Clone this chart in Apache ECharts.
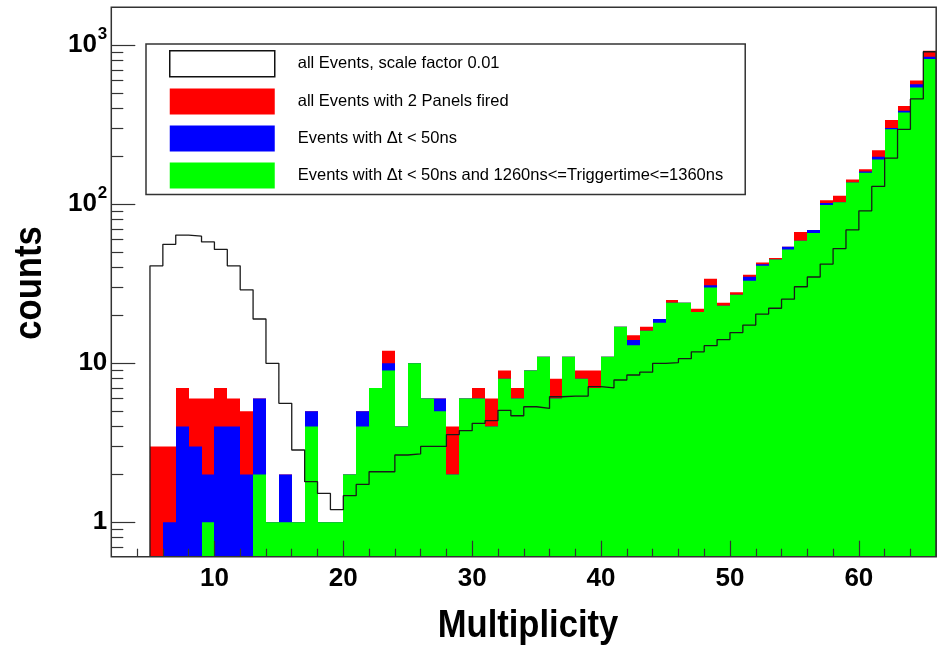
<!DOCTYPE html>
<html>
<head>
<meta charset="utf-8">
<script src="https://cdn.jsdelivr.net/npm/echarts@6/dist/echarts.min.js"></script>
<style>
html,body{margin:0;padding:0;background:#fff;}
#chart{width:942px;height:650px;}
</style>
</head>
<body>
<div id="chart"></div>
<script>
// ---------------- data ----------------
// lower edge of each multiplicity bin (bin width 1)
const bins = [5,6,7,8,9,10,11,12,13,14,15,16,17,18,19,20,21,22,23,24,25,26,27,28,29,30,31,32,33,34,35,
  36,37,38,39,40,41,42,43,44,45,46,47,48,49,50,51,52,53,54,55,56,57,58,59,60,61,62,63,64,65];

// all Events, scale factor 0.01 (black outline)
const allEventsScaled = [41,56,64,63,58,52,41,29,19,10,
  5.6,2.85,1.8,1.52,1.2,1.47,1.73,2.08,2.08,2.65,
  2.69,3.0,3.0,3.56,3.77,4.19,4.36,5.06,4.68,5.33,
  5.2,6.16,6.22,6.22,7.13,7.0,7.85,8.44,8.8,10.0,
  10.1,10.7,11.8,12.9,14.1,15.6,17.4,20.4,22.2,25.3,
  30.3,34.9,42.1,52.7,69,91,129.5,195,296,460,
  911];

// all Events with 2 Panels fired (red)
const twoPanels = [3,3,7,6,6,7,6,5,6,1,
  2,1,5,1,1,2,5,7,12,4,
  10,6,6,4,6,7,6,9,7,9,
  11,8,11,9,9,11,17,15,17,19,
  25,24,22,34,24,28,36,43,46,54,
  67,69,106,113,143,166,219,339,415,600,
  925];

// Events with dt < 50ns (blue)
const dtCut = [0,1,4,3,2,4,4,2,6,1,
  2,1,5,1,1,2,5,7,10,4,
  10,6,6,2,6,6,4,8,6,9,
  11,6,11,8,7,11,17,14,16,19,
  24,24,21,31,23,27,35,42,45,54,
  59,69,102,103,137,161,199,302,387,568,
  848];

// Events with dt < 50ns and 1260ns<=Triggertime<=1360ns (green)
const dtTrigCut = [0,0,0,0,1,0,0,0,2,1,
  1,1,4,1,1,2,4,7,9,4,
  10,6,5,2,6,6,4,8,6,9,
  11,6,11,8,7,11,17,13,16,18,
  24,24,21,30,23,27,33,41,45,52,
  59,66,99,103,137,158,191,296,378,542,
  820];

const seriesNames = [
  'all Events, scale factor 0.01',
  'all Events with 2 Panels fired',
  'Events with \u0394t < 50ns',
  'Events with \u0394t < 50ns and 1260ns<=Triggertime<=1360ns'
];

// tick labels
const xTickLabels = [10,20,30,40,50,60];
const yTickLabels = [1,10,100,1000];

// ---------------- layout / style ----------------
const BIN_WIDTH = 1;
const X_MIN = 2, X_MAX = 66;
const Y_MIN = 0.6076, Y_MAX = 1734;
const FONT = '"Liberation Sans", Arial, Helvetica, sans-serif';
const GRID = {left: 111.3, right: 5.8, top: 7.3, bottom: 93.3};

const xMinorTicks = [];
for (let v = X_MIN + 2; v < X_MAX; v += 2) if (v % 10 !== 0) xMinorTicks.push(v);
const yMinorTicks = [];
for (let e = -1; e <= 3; e++) for (let m = 2; m <= 9; m++) {
  const v = m * Math.pow(10, e);
  if (v > Y_MIN && v < Y_MAX) yMinorTicks.push(+v.toPrecision(3));
}

function barSeries(name, values, color) {
  return {
    type: 'custom',
    name: name,
    xAxisIndex: 0, yAxisIndex: 0,
    silent: true,
    clip: true,
    itemStyle: {color: color},
    encode: {x: 0, y: 1},
    data: bins.map((b, i) => [b, values[i]]),
    renderItem: function (params, api) {
      const x = api.value(0), v = api.value(1);
      if (!(v > 0)) return null;
      const tl = api.coord([x, v]);
      const br = api.coord([x + BIN_WIDTH, Y_MIN]);
      const x0 = Math.round(tl[0]), x1 = Math.round(br[0]);
      return {
        type: 'rect',
        shape: {x: x0, y: tl[1], width: x1 - x0, height: br[1] - tl[1]},
        style: {fill: color}
      };
    }
  };
}

// outline of the scaled "all events" histogram
const last = bins.length - 1;
const outline = [[bins[0], Y_MIN]];
bins.forEach((b, i) => outline.push([b, allEventsScaled[i]]));
outline.push([bins[last] + BIN_WIDTH, allEventsScaled[last]]);
outline.push([bins[last] + BIN_WIDTH, Y_MIN]);

const tickLine = {color: '#333', width: 1.2};

const option = {
  animation: false,
  backgroundColor: '#fff',
  grid: [
    Object.assign({show: true, borderColor: '#333', borderWidth: 1.5, backgroundColor: 'transparent',
      z: 10, containLabel: false, outerBoundsMode: 'none'}, GRID),
    Object.assign({show: false, containLabel: false, outerBoundsMode: 'none'}, GRID)
  ],
  xAxis: [
    {
      type: 'value', gridIndex: 0, min: X_MIN, max: X_MAX, z: 10,
      axisLine: {show: false}, splitLine: {show: false},
      axisTick: {show: true, inside: true, length: 8, customValues: xMinorTicks, lineStyle: tickLine},
      axisLabel: {show: true, customValues: xTickLabels, margin: 9, fontSize: 26, fontWeight: 'bold',
        color: '#000', fontFamily: FONT, formatter: v => String(v)}
    },
    {
      type: 'value', gridIndex: 1, min: X_MIN, max: X_MAX, z: 10,
      axisLine: {show: false}, splitLine: {show: false}, axisLabel: {show: false},
      axisTick: {show: true, inside: true, length: 16, customValues: xTickLabels, lineStyle: tickLine}
    }
  ],
  yAxis: [
    {
      type: 'log', logBase: 10, gridIndex: 0, min: Y_MIN, max: Y_MAX, z: 10,
      axisLine: {show: false}, splitLine: {show: false},
      axisTick: {show: true, inside: true, length: 12, customValues: yMinorTicks, lineStyle: tickLine},
      axisLabel: {
        show: true, customValues: yTickLabels, margin: 4,
        formatter: function (v) {
          const e = Math.round(Math.log10(v));
          if (e === 0) return '{b|1}';
          if (e === 1) return '{b|10}';
          return '{b|10}{s|' + e + '}';
        },
        rich: {
          b: {fontSize: 26, lineHeight: 26, fontWeight: 'bold', fontFamily: FONT, color: '#000'},
          s: {fontSize: 17, lineHeight: 17, fontWeight: 'bold', fontFamily: FONT, color: '#000', padding: [0, 0, 22, 1]}
        }
      }
    },
    {
      type: 'log', logBase: 10, gridIndex: 1, min: Y_MIN, max: Y_MAX, z: 10,
      axisLine: {show: false}, splitLine: {show: false}, axisLabel: {show: false},
      axisTick: {show: true, inside: true, length: 24, customValues: yTickLabels, lineStyle: tickLine}
    }
  ],
  legend: {
    orient: 'vertical', left: 146, top: 44,
    selectedMode: false,
    padding: [6, 22, 6, 23],
    itemWidth: 105, itemHeight: 26, itemGap: 11,
    backgroundColor: '#fff', borderColor: '#333', borderWidth: 1.5, borderRadius: 0,
    textStyle: {fontSize: 16.5, color: '#000', fontFamily: FONT, padding: [0, 0, 0, 18]},
    data: [
      {name: seriesNames[0], icon: 'rect', itemStyle: {color: '#fff', borderColor: '#111', borderWidth: 1.5}},
      {name: seriesNames[1], icon: 'rect', itemStyle: {color: '#ff0000', borderWidth: 0}},
      {name: seriesNames[2], icon: 'rect', itemStyle: {color: '#0000ff', borderWidth: 0}},
      {name: seriesNames[3], icon: 'rect', itemStyle: {color: '#00ff00', borderWidth: 0}}
    ]
  },
  graphic: [
    {type: 'text', x: 528, y: 627, scaleX: 0.91, silent: true,
      style: {text: 'Multiplicity', fill: '#000', font: 'bold 38px ' + FONT,
        align: 'center', verticalAlign: 'middle', textAlign: 'center', textVerticalAlign: 'middle'}},
    {type: 'text', x: 31, y: 283, rotation: Math.PI / 2, scaleX: 0.91, silent: true,
      style: {text: 'counts', fill: '#000', font: 'bold 38px ' + FONT,
        align: 'center', verticalAlign: 'middle', textAlign: 'center', textVerticalAlign: 'middle'}}
  ],
  series: [
    barSeries(seriesNames[1], twoPanels, '#ff0000'),
    barSeries(seriesNames[2], dtCut, '#0000ff'),
    barSeries(seriesNames[3], dtTrigCut, '#00ff00'),
    {
      type: 'line', name: seriesNames[0], xAxisIndex: 0, yAxisIndex: 0,
      step: 'end', symbol: 'none', silent: true, clip: true, z: 5,
      itemStyle: {color: '#fff', borderColor: '#111'},
      lineStyle: {color: '#1a1a1a', width: 1.3},
      data: outline
    }
  ]
};

const chart = echarts.init(document.getElementById('chart'), null, {renderer: 'canvas'});
chart.setOption(option);
</script>
</body>
</html>
